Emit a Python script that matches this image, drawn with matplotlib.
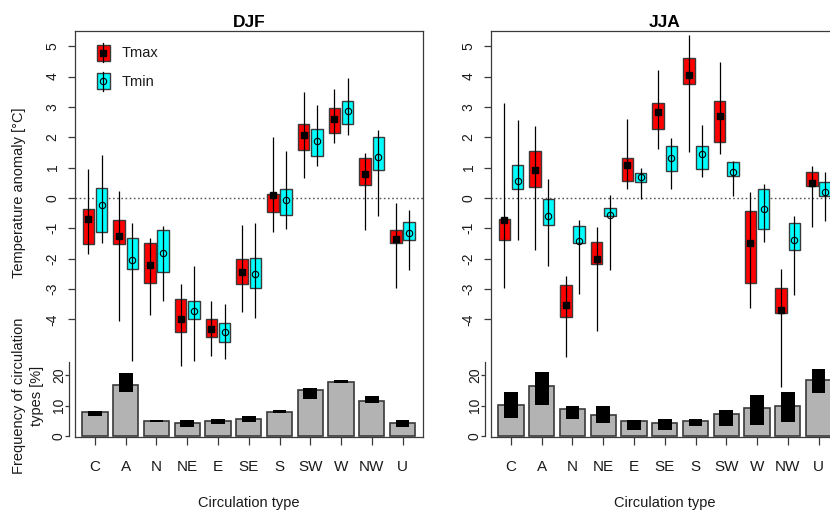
import matplotlib
matplotlib.use('Agg')
import matplotlib.pyplot as plt
import numpy as np
from matplotlib.patches import Rectangle
from matplotlib.lines import Line2D
from matplotlib.legend_handler import HandlerBase

plt.rcParams['font.family'] = ['Liberation Sans', 'DejaVu Sans']

# ---------------- data ----------------
categories = ['C', 'A', 'N', 'NE', 'E', 'SE', 'S', 'SW', 'W', 'NW', 'U']

# DJF Tmax: whisker low, box low, median, box high, whisker high
djf_tmax_lo = [-1.83, -4.06, -3.84, -5.54, -5.20, -3.77, -1.12, 0.67, 1.81, -1.06, -2.98]
djf_tmax_q1 = [-1.52, -1.52, -2.80, -4.43, -4.58, -2.85, -0.47, 1.57, 2.15, 0.43, -1.47]
djf_tmax_med = [-0.70, -1.25, -2.21, -3.98, -4.32, -2.43, 0.11, 2.09, 2.60, 0.78, -1.34]
djf_tmax_q3 = [-0.37, -0.71, -1.49, -3.33, -3.98, -2.02, 0.14, 2.45, 2.96, 1.33, -1.04]
djf_tmax_hi = [0.94, 0.22, -1.32, -2.82, -3.40, -0.90, 2.01, 3.50, 3.60, 1.49, -0.15]

# DJF Tmin
djf_tmin_lo = [-1.50, -5.37, -3.39, -5.37, -5.30, -3.95, -1.02, 1.05, 2.07, -0.58, -2.38]
djf_tmin_q1 = [-1.13, -2.35, -2.43, -4.00, -4.74, -2.95, -0.55, 1.37, 2.45, 0.93, -1.37]
djf_tmin_med = [-0.24, -2.04, -1.80, -3.74, -4.43, -2.52, -0.07, 1.88, 2.87, 1.36, -1.15]
djf_tmin_q3 = [0.33, -1.31, -1.07, -3.41, -4.13, -1.98, 0.29, 2.27, 3.18, 2.02, -0.80]
djf_tmin_hi = [1.40, -0.81, -0.91, -2.25, -3.51, -0.84, 1.54, 3.07, 3.94, 2.25, -0.41]

# JJA Tmax
jja_tmax_lo = [-2.95, -1.73, -5.25, -4.38, 0.29, 1.61, 1.50, 1.44, -3.64, -6.24, -0.95]
jja_tmax_q1 = [-1.37, 0.36, -3.91, -2.19, 0.55, 2.27, 3.75, 1.84, -2.80, -3.80, 0.39]
jja_tmax_med = [-0.74, 0.92, -3.53, -2.01, 1.09, 2.84, 4.04, 2.69, -1.49, -3.70, 0.49]
jja_tmax_q3 = [-0.70, 1.56, -2.86, -1.46, 1.33, 3.14, 4.61, 3.18, -0.44, -2.98, 0.86]
jja_tmax_hi = [3.14, 2.36, -2.58, -0.97, 2.59, 4.22, 5.38, 4.49, 0.21, -2.34, 1.05]

# JJA Tmin
jja_tmin_lo = [-1.39, -2.24, -3.15, -2.36, -0.04, 0.29, 0.68, 0.07, -1.45, -3.20, -0.77]
jja_tmin_q1 = [0.28, -0.88, -1.50, -0.61, 0.54, 0.90, 0.97, 0.72, -1.01, -1.72, 0.08]
jja_tmin_med = [0.57, -0.60, -1.42, -0.57, 0.69, 1.30, 1.45, 0.85, -0.37, -1.40, 0.21]
jja_tmin_q3 = [1.07, -0.05, -0.92, -0.32, 0.81, 1.72, 1.72, 1.17, 0.29, -0.82, 0.54]
jja_tmin_hi = [2.58, 0.61, -0.73, 0.09, 1.00, 1.96, 2.39, 1.22, 0.45, -0.60, 0.86]

# Frequency of circulation types [%] and their range
djf_freq = [7.9, 16.6, 5.1, 4.2, 5.1, 5.6, 8.1, 15.0, 17.8, 11.4, 4.2]
djf_freq_lo = [6.5, 14.4, 4.6, 3.0, 4.1, 4.8, 7.5, 12.2, 17.4, 10.9, 3.2]
djf_freq_hi = [8.4, 20.8, 5.4, 5.2, 5.6, 6.6, 8.6, 15.6, 18.5, 13.0, 5.4]
jja_freq = [10.2, 16.3, 8.8, 6.9, 4.9, 4.5, 4.9, 7.3, 9.3, 9.9, 18.5]
jja_freq_lo = [6.1, 10.3, 5.7, 4.4, 2.0, 2.1, 3.3, 3.4, 3.8, 4.6, 14.2]
jja_freq_hi = [14.5, 21.1, 10.0, 10.0, 5.2, 5.7, 5.5, 8.7, 13.6, 14.3, 21.8]

temp_ticks = [-4, -3, -2, -1, 0, 1, 2, 3, 4, 5]
freq_ticks = [0, 10, 20]

# ---------------- styling ----------------
W, H = 830, 511
TXT = '#1a1a1a'
RED = '#ff0000'
CYAN = '#00ffff'
BAR = '#b3b3b3'
EDGE = '#3a3a3a'
T_LIM = (-7.875, 5.50)
F_LIM = (-0.2, 132.0)
X_LIM = (-0.65, 10.65)
OFF = 0.215
BW = 0.37

fig = plt.figure(figsize=(W / 100, H / 100), dpi=100)


def rect_px(x0, y0, x1, y1):
    return [x0 / W, 1 - y1 / H, (x1 - x0) / W, (y1 - y0) / H]


class BoxHandler(HandlerBase):
    def __init__(self, face, filled):
        super().__init__()
        self.face = face
        self.filled = filled

    def create_artists(self, legend, orig_handle, xdescent, ydescent,
                       width, height, fontsize, trans):
        x0, y0 = -xdescent, -ydescent
        cx = x0 + width / 2
        bh = height * 0.8
        r = Rectangle((x0, y0 + (height - bh) / 2), width, bh,
                      facecolor=self.face, edgecolor=EDGE, lw=1.0, transform=trans)
        wl = Line2D([cx, cx], [y0, y0 + height], color='k', lw=0.9, transform=trans)
        if self.filled:
            mk = Line2D([cx], [y0 + height / 2], marker='s', ms=4.8, color='k',
                        ls='none', transform=trans)
        else:
            mk = Line2D([cx], [y0 + height / 2], marker='o', ms=4.6, mfc='none',
                        mec='k', mew=0.8, ls='none', transform=trans)
        return [r, wl, mk]


def panel(rect, title, tmax, tmin, freq, flo, fhi, legend):
    x = np.arange(len(categories))

    # frequency axes (behind)
    fax = fig.add_axes(rect)
    fax.set_xlim(*X_LIM)
    fax.set_ylim(*F_LIM)
    for s in ['top', 'right', 'bottom']:
        fax.spines[s].set_visible(False)
    fax.spines['left'].set_position(('outward', 4.1))
    fax.spines['left'].set_bounds(0, 24.2)
    fax.spines['left'].set_color(EDGE)
    fax.spines['left'].set_linewidth(0.9)
    fax.set_xticks([])
    fax.set_yticks(freq_ticks)
    fax.set_yticklabels([str(t) for t in freq_ticks], rotation=90, va='center')
    fax.tick_params(axis='y', length=3, width=0.9, color=EDGE, pad=-0.5,
                    labelsize=10, labelcolor=TXT)
    fax.bar(x, freq, width=0.82, color=BAR, edgecolor=EDGE, lw=1.2, zorder=2)
    fax.bar(x, np.array(fhi) - np.array(flo), bottom=flo, width=0.44,
            color='black', lw=0, zorder=3)

    # temperature axes (front)
    ax = fig.add_axes(rect)
    ax.patch.set_visible(False)
    ax.set_xlim(*X_LIM)
    ax.set_ylim(*T_LIM)
    for s in ax.spines.values():
        s.set_color(EDGE)
        s.set_linewidth(0.9)
    ax.axhline(0, color='#555555', lw=1.0, ls=(0, (1.2, 1.8)), zorder=1)

    for (lo, q1, med, q3, hi), dx, face, filled in [
            (tmax, -OFF, RED, True), (tmin, OFF, CYAN, False)]:
        xx = x + dx
        ax.bar(xx, np.array(q3) - np.array(q1), bottom=q1, width=BW,
               color=face, edgecolor=EDGE, lw=1.0, zorder=2)
        ax.vlines(xx, lo, hi, color='black', lw=0.9, zorder=3)
        if filled:
            ax.plot(xx, med, 's', ms=4.8, color='black', zorder=4)
        else:
            ax.plot(xx, med, 'o', ms=4.6, mfc='none', mec='black', mew=0.8, zorder=4)

    ax.set_yticks(temp_ticks)
    ax.set_yticklabels([str(t) for t in temp_ticks], rotation=90, va='center')
    ax.tick_params(axis='y', length=5, width=0.9, color=EDGE, pad=6,
                   labelsize=10, labelcolor=TXT)
    ax.set_xticks(x)
    ax.set_xticklabels(categories)
    ax.tick_params(axis='x', length=6, width=0.9, color=EDGE, pad=10.5,
                   labelsize=11, labelcolor=TXT)
    ax.set_xlabel('Circulation type', fontsize=10.5, color=TXT, labelpad=16)
    ax.set_title(title, fontsize=12.5, fontweight='bold', color='black', pad=3)

    if legend:
        h1 = Rectangle((0, 0), 1, 1)
        h2 = Rectangle((0, 0), 1, 1)
        ax.legend([h1, h2], ['Tmax', 'Tmin'],
                  handler_map={h1: BoxHandler(RED, True),
                               h2: BoxHandler(CYAN, False)},
                  loc='upper left', bbox_to_anchor=(22 / 347.5, 1 - 12 / 406),
                  frameon=False, borderpad=0, borderaxespad=0,
                  handlelength=0.86, handleheight=1.68, labelspacing=0.62,
                  handletextpad=0.85, fontsize=10.5, labelcolor=TXT)
    return ax


axL = panel(rect_px(75, 31, 422.5, 437), 'DJF',
            (djf_tmax_lo, djf_tmax_q1, djf_tmax_med, djf_tmax_q3, djf_tmax_hi),
            (djf_tmin_lo, djf_tmin_q1, djf_tmin_med, djf_tmin_q3, djf_tmin_hi),
            djf_freq, djf_freq_lo, djf_freq_hi, True)
axR = panel(rect_px(491, 31, 838.5, 437), 'JJA',
            (jja_tmax_lo, jja_tmax_q1, jja_tmax_med, jja_tmax_q3, jja_tmax_hi),
            (jja_tmin_lo, jja_tmin_q1, jja_tmin_med, jja_tmin_q3, jja_tmin_hi),
            jja_freq, jja_freq_lo, jja_freq_hi, False)

fig.text(18.5 / W, 1 - 193 / H, 'Temperature anomaly [°C]', rotation=90,
         ha='center', va='center', fontsize=10.5, color=TXT)
fig.text(28 / W, 1 - 396 / H, 'Frequency of circulation\ntypes [%]', rotation=90,
         ha='center', va='center', multialignment='center', fontsize=10.5,
         color=TXT, linespacing=1.3)

fig.savefig('out.png', dpi=100)
